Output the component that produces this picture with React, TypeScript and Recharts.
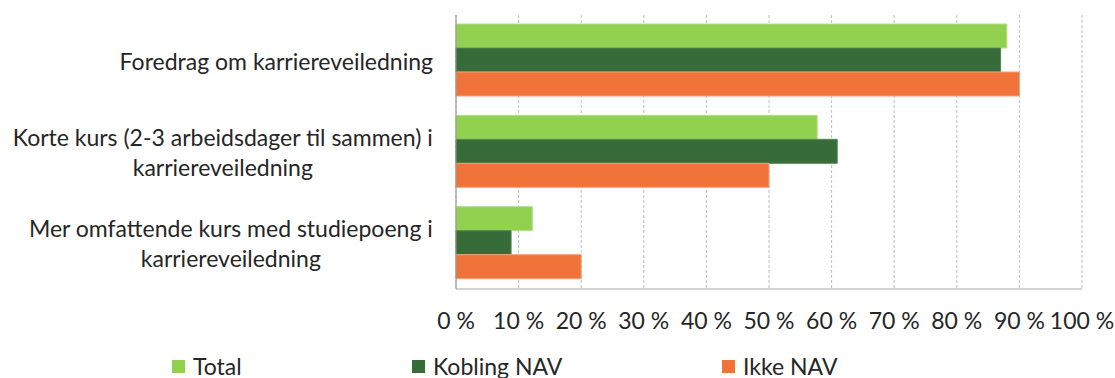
import React from 'react';
import { BarChart, Bar, XAxis, YAxis, CartesianGrid, Legend } from 'recharts';

// Course categories (each label split into its printed lines)
const categories = [
  'Foredrag om karriereveiledning',
  'Korte kurs (2-3 arbeidsdager til sammen) i karriereveiledning',
  'Mer omfattende kurs med studiepoeng i karriereveiledning',
];
const categoryLines = [
  ['Foredrag om karriereveiledning'],
  ['Korte kurs (2-3 arbeidsdager til sammen) i', 'karriereveiledning'],
  ['Mer omfattende kurs med studiepoeng i', 'karriereveiledning'],
];

// Share of respondents (%) per group
const total = [88, 57.7, 12.2];
const koblingNav = [87, 60.9, 8.8];
const ikkeNav = [90, 50, 20];

const xTicks = [0, 10, 20, 30, 40, 50, 60, 70, 80, 90, 100];

const seriesNames = ['Total', 'Kobling NAV', 'Ikke NAV'];
const seriesKeys = ['total', 'kobling', 'ikke'];
const seriesFill = ['#92D050', '#376B37', '#F0743A'];
const seriesStroke = ['#B4E08A', '#4F8A4F', '#F5A07A'];
const legendLeft = [172, 412, 722];

const FONT = 'Lato, "DejaVu Sans", sans-serif';
const FONT_SIZE = 23;
const TEXT = '#262626';

const data = categories.map((name, i) => ({
  name,
  idx: i,
  total: total[i],
  kobling: koblingNav[i],
  ikke: ikkeNav[i],
}));

let ctx: CanvasRenderingContext2D | null = null;
function measure(text: string): number {
  if (!ctx) {
    const c = document.createElement('canvas');
    ctx = c.getContext('2d');
  }
  if (!ctx) return text.length * FONT_SIZE * 0.5;
  ctx.font = `${FONT_SIZE}px ${FONT}`;
  return ctx.measureText(text).width;
}

const CategoryTick = (props: any) => {
  const { x, y, payload } = props;
  const i = categories.indexOf(payload.value);
  const lines = categoryLines[i] || [payload.value];
  const blockW = Math.max(...lines.map(measure));
  const cx = x - blockW / 2;
  const lh = 30;
  const y0 = y - ((lines.length - 1) * lh) / 2;
  return (
    <g>
      {lines.map((ln, k) => (
        <text
          key={k}
          x={cx}
          y={y0 + k * lh}
          textAnchor="middle"
          dominantBaseline="central"
          fill={TEXT}
          fontSize={FONT_SIZE}
          fontFamily={FONT}
        >
          {ln}
        </text>
      ))}
    </g>
  );
};

const PercentTick = (props: any) => {
  const { x, y, payload } = props;
  return (
    <text
      x={x}
      y={y}
      textAnchor="middle"
      dominantBaseline="central"
      fill={TEXT}
      fontSize={FONT_SIZE}
      fontFamily={FONT}
    >
      {`${payload.value} %`}
    </text>
  );
};

const LegendContent = () => (
  <div style={{ position: 'relative', width: 1115, height: 24, fontFamily: FONT, fontSize: FONT_SIZE, color: TEXT }}>
    {seriesNames.map((n, i) => (
      <div
        key={n}
        style={{
          position: 'absolute',
          left: legendLeft[i],
          top: 0,
          height: 24,
          display: 'flex',
          alignItems: 'center',
          whiteSpace: 'nowrap',
        }}
      >
        <span style={{ display: 'inline-block', width: 13, height: 13, background: seriesFill[i], marginRight: 8 }} />
        <span>{n}</span>
      </div>
    ))}
  </div>
);

export default function App() {
  return (
    <div style={{ position: 'absolute', left: 0, top: 0, width: 1115, height: 378, background: '#fff', fontFamily: FONT }}>
      <BarChart
        width={1115}
        height={378}
        data={data}
        layout="vertical"
        margin={{ top: 15, right: 33, bottom: 0, left: 0 }}
        barCategoryGap={9}
        barGap={0}
      >
        <CartesianGrid horizontal={false} vertical stroke="#BDBDBD" strokeDasharray="3 2" />
        <XAxis
          type="number"
          domain={[0, 100]}
          ticks={xTicks}
          interval={0}
          height={65}
          tickLine={false}
          tickSize={0}
          tickMargin={31}
          axisLine={{ stroke: '#A6A6A6' }}
          tick={<PercentTick />}
        />
        <YAxis
          type="category"
          dataKey="name"
          width={456}
          tickLine={false}
          tickSize={0}
          tickMargin={23}
          axisLine={{ stroke: '#8C8C8C' }}
          tick={<CategoryTick />}
          interval={0}
        />
        <Legend
          verticalAlign="bottom"
          wrapperStyle={{ left: 0, bottom: 0, width: 1115, height: 24 }}
          content={<LegendContent />}
        />
        {seriesKeys.map((k, i) => (
          <Bar
            key={k}
            dataKey={k}
            name={seriesNames[i]}
            fill={seriesFill[i]}
            stroke={seriesStroke[i]}
            strokeWidth={1}
            isAnimationActive={false}
          />
        ))}
      </BarChart>
    </div>
  );
}
